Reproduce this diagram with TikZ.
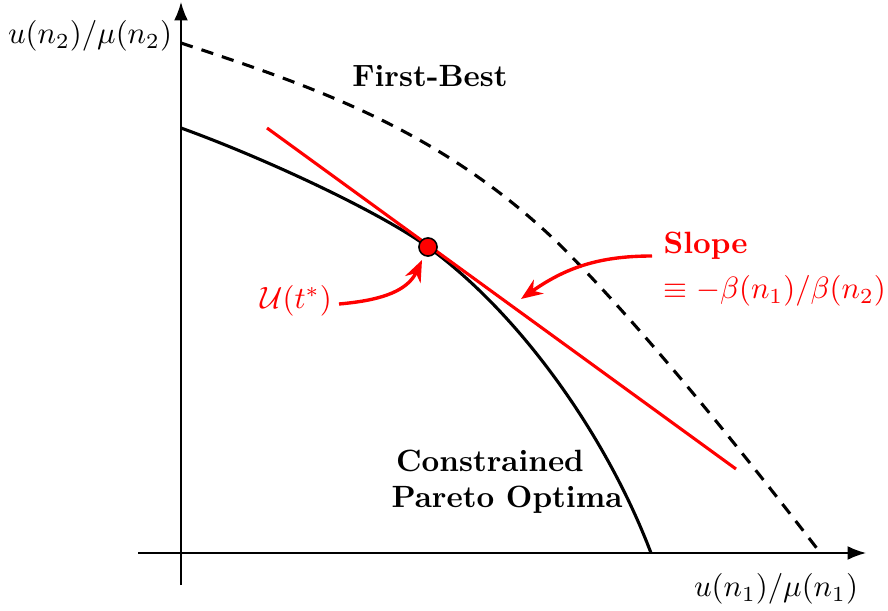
\documentclass[tikz,border=0pt]{standalone}
\usetikzlibrary{arrows.meta}
\begin{document}
\begin{tikzpicture}[x=0.325pt,y=-0.325pt,
  axis/.style={line width=0.5pt,-{Latex[length=6pt,width=4.5pt]}},
  curve/.style={line width=1pt},
  redarrow/.style={red,line width=1.1pt,-{Stealth[length=7pt,width=5.5pt]}},
  lbl/.style={inner sep=0pt}]
\path[use as bounding box] (0,0) rectangle (888,611);
% axes
\coordinate (yb) at (181,585);
\coordinate (yt) at (181,2);
\coordinate (xl) at (138,553);
\coordinate (xr) at (866,553);
\draw[axis] (yb) -- (yt);
\draw[axis] (xl) -- (xr);
% constrained frontier (through the tangency point)
\coordinate (c0) at (181,128);
\coordinate (cm) at (428,247);
\coordinate (c1) at (651,553);
\draw[curve] (c0) .. controls (261,156.8) and (378,210.75) .. (cm)
  .. controls (518,312.3) and (605.4,433) .. (c1);
% first-best frontier
\coordinate (d0) at (181,43);
\coordinate (dm) at (560,245);
\coordinate (d1) at (822,555);
\draw[curve,dash pattern=on 4pt off 3pt] (d0) .. controls (311,85.9) and (440,128.6) .. (dm)
  .. controls (645,330) and (747,457.5) .. (d1);
% tangent line
\coordinate (r0) at (267,128);
\coordinate (r1) at (736,469);
\draw[red,line width=1pt] (r0) -- (r1);
\node[circle,draw=black,fill=red,line width=0.5pt,minimum size=5.9pt,inner sep=0pt] (pt) at (428,247) {};
% labels
\node[lbl] (ylab) at (90,36) {$u(n_2)/\mu(n_2)$};
\node[lbl] (xlab) at (776,589) {$u(n_1)/\mu(n_1)$};
\node[lbl] (fb) at (430,76) {\textbf{First-Best}};
\node[lbl,anchor=west,text=red] (slope) at (663,246) {\textbf{Slope}};
\node[lbl,anchor=west,text=red] (slopeval) at (663,291) {$\equiv -\beta(n_1)/\beta(n_2)$};
\node[lbl,text=red] (ut) at (296,301) {$\mathcal{U}(t^*)$};
\node[lbl] (cons) at (490,461) {\textbf{Constrained}};
\node[lbl] (pareto) at (507,500) {\textbf{Pareto Optima}};
% arrows
\coordinate (s0) at (652,256);
\coordinate (s1) at (521,299);
\draw[redarrow] (s0) to[out=180,in=35] (s1);
\coordinate (u0) at (339,304);
\coordinate (u1) at (422,260);
\draw[redarrow] (u0) to[out=5,in=-115] (u1);
\end{tikzpicture}
\end{document}
